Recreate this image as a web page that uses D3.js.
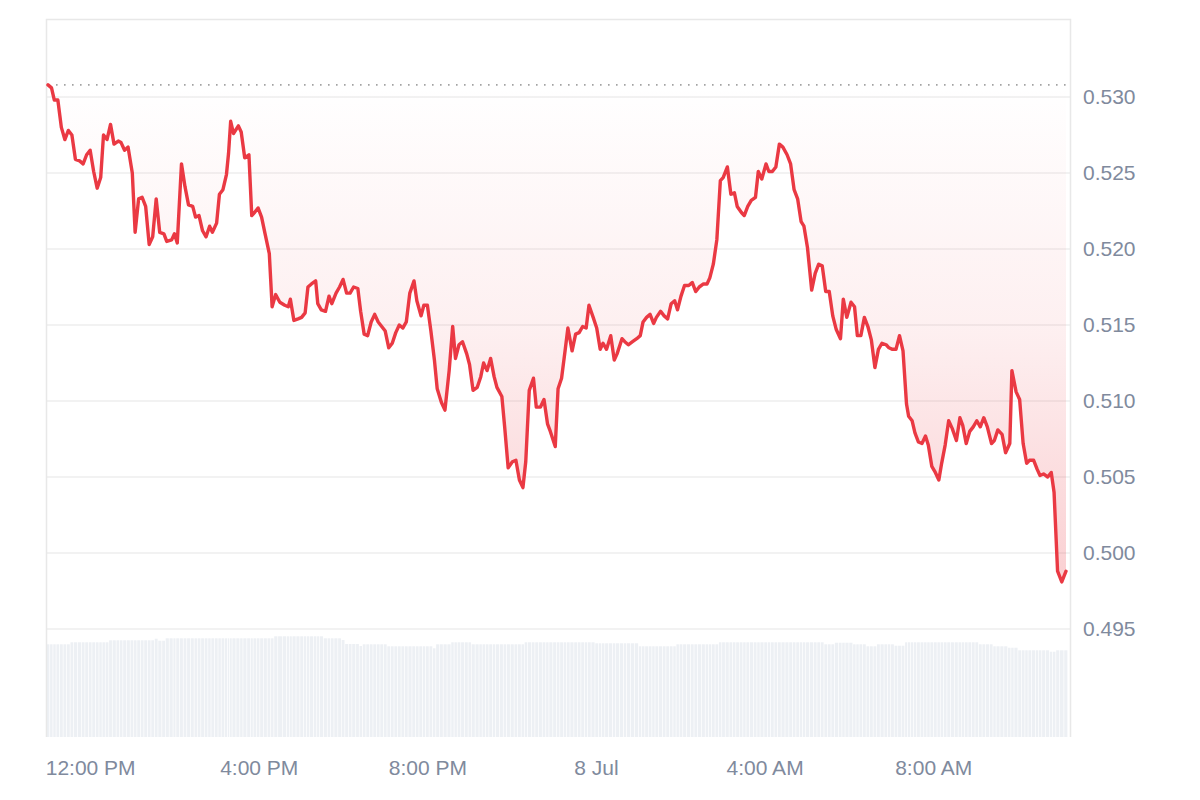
<!DOCTYPE html>
<html><head><meta charset="utf-8">
<script src="https://cdn.jsdelivr.net/npm/d3@7"></script>
<style>html,body{margin:0;padding:0;background:#fff;} svg{display:block;font-family:"Liberation Sans",Arial,sans-serif;}</style>
</head><body><svg id="chart" width="1200" height="800"></svg>
<script>
const times = [
"07-07 11:00","07-07 11:05","07-07 11:09","07-07 11:14","07-07 11:19","07-07 11:24","07-07 11:29","07-07 11:34","07-07 11:39","07-07 11:45",
"07-07 11:50","07-07 11:55","07-07 12:00","07-07 12:05","07-07 12:10","07-07 12:15","07-07 12:19","07-07 12:24","07-07 12:29","07-07 12:34",
"07-07 12:40","07-07 12:44","07-07 12:49","07-07 12:54","07-07 13:00","07-07 13:04","07-07 13:09","07-07 13:14","07-07 13:19","07-07 13:24",
"07-07 13:29","07-07 13:34","07-07 13:39","07-07 13:45","07-07 13:49","07-07 13:56","07-07 14:00","07-07 14:04","07-07 14:10","07-07 14:15",
"07-07 14:20","07-07 14:26","07-07 14:30","07-07 14:35","07-07 14:40","07-07 14:45","07-07 14:50","07-07 14:54","07-07 15:00","07-07 15:04",
"07-07 15:09","07-07 15:14","07-07 15:17","07-07 15:20","07-07 15:24","07-07 15:31","07-07 15:35","07-07 15:40","07-07 15:46","07-07 15:50",
"07-07 15:54","07-07 15:59","07-07 16:04","07-07 16:09","07-07 16:15","07-07 16:19","07-07 16:24","07-07 16:30","07-07 16:37","07-07 16:42",
"07-07 16:45","07-07 16:50","07-07 16:56","07-07 17:01","07-07 17:06","07-07 17:10","07-07 17:15","07-07 17:21","07-07 17:24","07-07 17:29",
"07-07 17:35","07-07 17:40","07-07 17:44","07-07 17:50","07-07 17:55","07-07 18:00","07-07 18:05","07-07 18:10","07-07 18:15","07-07 18:21",
"07-07 18:25","07-07 18:30","07-07 18:35","07-07 18:40","07-07 18:45","07-07 18:50","07-07 18:55","07-07 19:00","07-07 19:05","07-07 19:10",
"07-07 19:15","07-07 19:20","07-07 19:25","07-07 19:30","07-07 19:35","07-07 19:41","07-07 19:45","07-07 19:51","07-07 19:55","07-07 20:00",
"07-07 20:05","07-07 20:10","07-07 20:14","07-07 20:20","07-07 20:25","07-07 20:31","07-07 20:36","07-07 20:40","07-07 20:45","07-07 20:50",
"07-07 20:56","07-07 21:00","07-07 21:05","07-07 21:11","07-07 21:16","07-07 21:20","07-07 21:25","07-07 21:30","07-07 21:35","07-07 21:39",
"07-07 21:46","07-07 21:50","07-07 21:55","07-07 22:01","07-07 22:06","07-07 22:11","07-07 22:16","07-07 22:20","07-07 22:25","07-07 22:31",
"07-07 22:35","07-07 22:41","07-07 22:46","07-07 22:51","07-07 22:55","07-07 23:02","07-07 23:06","07-07 23:11","07-07 23:16","07-07 23:20",
"07-07 23:26","07-07 23:31","07-07 23:36","07-07 23:41","07-07 23:46","07-07 23:50","07-07 23:56","07-08 00:01","07-08 00:06","07-08 00:10",
"07-08 00:15","07-08 00:21","07-08 00:26","07-08 00:30","07-08 00:37","07-08 00:41","07-08 00:46","07-08 00:52","07-08 00:58","07-08 01:03",
"07-08 01:07","07-08 01:12","07-08 01:17","07-08 01:22","07-08 01:26","07-08 01:32","07-08 01:37","07-08 01:42","07-08 01:47","07-08 01:52",
"07-08 01:56","07-08 02:01","07-08 02:06","07-08 02:12","07-08 02:17","07-08 02:22","07-08 02:27","07-08 02:33","07-08 02:38","07-08 02:42",
"07-08 02:47","07-08 02:52","07-08 02:57","07-08 03:01","07-08 03:07","07-08 03:12","07-08 03:17","07-08 03:21","07-08 03:27","07-08 03:31",
"07-08 03:36","07-08 03:41","07-08 03:47","07-08 03:51","07-08 03:56","07-08 04:02","07-08 04:06","07-08 04:11","07-08 04:16","07-08 04:21",
"07-08 04:26","07-08 04:32","07-08 04:37","07-08 04:42","07-08 04:47","07-08 04:52","07-08 04:56","07-08 05:01","07-08 05:07","07-08 05:12",
"07-08 05:17","07-08 05:22","07-08 05:27","07-08 05:32","07-08 05:37","07-08 05:42","07-08 05:48","07-08 05:52","07-08 05:57","07-08 06:03",
"07-08 06:08","07-08 06:12","07-08 06:17","07-08 06:22","07-08 06:27","07-08 06:32","07-08 06:37","07-08 06:42","07-08 06:47","07-08 06:53",
"07-08 06:57","07-08 07:02","07-08 07:07","07-08 07:12","07-08 07:17","07-08 07:22","07-08 07:25","07-08 07:30","07-08 07:34","07-08 07:39",
"07-08 07:44","07-08 07:49","07-08 07:53","07-08 07:58","07-08 08:03","07-08 08:08","07-08 08:12","07-08 08:17","07-08 08:22","07-08 08:27",
"07-08 08:33","07-08 08:38","07-08 08:42","07-08 08:47","07-08 08:52","07-08 08:57","07-08 09:02","07-08 09:07","07-08 09:12","07-08 09:17",
"07-08 09:23","07-08 09:27","07-08 09:32","07-08 09:38","07-08 09:43","07-08 09:49","07-08 09:52","07-08 09:58","07-08 10:03","07-08 10:08",
"07-08 10:13","07-08 10:17","07-08 10:23","07-08 10:28","07-08 10:32","07-08 10:37","07-08 10:43","07-08 10:48","07-08 10:52","07-08 10:57",
"07-08 11:03","07-08 11:09"
];
const prices = [
0.5308,0.5306,0.5298,0.5298,0.5280,0.5272,0.5278,0.5275,0.5259,0.5258,
0.5256,0.5262,0.5265,0.5251,0.5240,0.5247,0.5275,0.5272,0.5282,0.5269,
0.5271,0.5270,0.5265,0.5267,0.5250,0.5211,0.5233,0.5234,0.5228,0.5203,
0.5208,0.5233,0.5211,0.5210,0.5205,0.5206,0.5210,0.5204,0.5256,0.5241,
0.5229,0.5228,0.5221,0.5222,0.5212,0.5208,0.5215,0.5211,0.5217,0.5236,
0.5239,0.5249,0.5263,0.5284,0.5276,0.5281,0.5277,0.5260,0.5262,0.5222,
0.5224,0.5227,0.5221,0.5210,0.5197,0.5162,0.5170,0.5165,0.5163,0.5162,
0.5167,0.5153,0.5154,0.5155,0.5158,0.5175,0.5177,0.5179,0.5164,0.5160,
0.5159,0.5169,0.5164,0.5171,0.5175,0.5180,0.5171,0.5171,0.5175,0.5174,
0.5159,0.5144,0.5143,0.5152,0.5157,0.5152,0.5149,0.5146,0.5135,0.5138,
0.5145,0.5150,0.5148,0.5152,0.5171,0.5179,0.5166,0.5156,0.5163,0.5163,
0.5146,0.5127,0.5108,0.5099,0.5094,0.5120,0.5149,0.5128,0.5137,0.5139,
0.5131,0.5124,0.5107,0.5109,0.5116,0.5125,0.5120,0.5128,0.5116,0.5109,
0.5103,0.5083,0.5056,0.5060,0.5061,0.5048,0.5043,0.5060,0.5107,0.5115,
0.5096,0.5096,0.5101,0.5085,0.5080,0.5070,0.5108,0.5115,0.5133,0.5148,
0.5133,0.5144,0.5145,0.5149,0.5148,0.5163,0.5155,0.5148,0.5134,0.5138,
0.5134,0.5143,0.5127,0.5131,0.5141,0.5139,0.5137,0.5139,0.5141,0.5143,
0.5152,0.5155,0.5157,0.5151,0.5155,0.5159,0.5156,0.5154,0.5164,0.5166,
0.5160,0.5169,0.5176,0.5176,0.5178,0.5172,0.5175,0.5177,0.5177,0.5181,
0.5190,0.5206,0.5245,0.5247,0.5254,0.5236,0.5237,0.5228,0.5224,0.5222,
0.5228,0.5232,0.5234,0.5251,0.5246,0.5256,0.5251,0.5251,0.5254,0.5269,
0.5267,0.5262,0.5256,0.5239,0.5233,0.5218,0.5215,0.5201,0.5173,0.5184,
0.5190,0.5189,0.5172,0.5172,0.5156,0.5147,0.5141,0.5167,0.5155,0.5165,
0.5162,0.5143,0.5143,0.5155,0.5149,0.5140,0.5122,0.5134,0.5138,0.5137,
0.5135,0.5134,0.5134,0.5143,0.5133,0.5098,0.5090,0.5087,0.5079,0.5073,
0.5072,0.5077,0.5071,0.5057,0.5053,0.5048,0.5059,0.5071,0.5087,0.5082,
0.5074,0.5089,0.5084,0.5072,0.5080,0.5083,0.5087,0.5083,0.5089,0.5083,
0.5072,0.5074,0.5081,0.5078,0.5066,0.5072,0.5120,0.5106,0.5101,0.5072,
0.5059,0.5061,0.5061,0.5055,0.5051,0.5052,0.5050,0.5053,0.5040,0.4988,
0.4981,0.4988
];
const volumes = [
92.7,92.7,92.7,92.7,92.7,92.7,92.7,
94.7,94.7,94.7,94.7,94.7,94.7,94.7,94.7,94.7,94.7,94.7,
96.7,96.7,96.7,96.7,96.7,96.7,96.7,96.7,96.7,96.7,96.7,96.7,96.7,
98.3,96.3,96.3,
98.7,98.7,98.7,98.7,98.7,98.7,98.7,98.7,98.7,98.7,98.7,98.7,98.7,98.7,98.7,98.7,
98.7,98.7,98.7,98.7,98.7,98.7,98.7,98.7,98.7,98.7,98.7,98.7,98.7,98.7,98.7,98.7,
100.7,100.7,100.7,100.7,100.7,100.7,100.7,100.7,100.7,100.7,100.7,100.7,100.7,100.7,
98.7,98.7,98.7,98.7,98.7,
97,93,93,93,93,91,
92.7,92.7,92.7,92.7,92.7,92.7,92.7,
90.7,90.7,90.7,90.7,90.7,90.7,90.7,90.7,90.7,90.7,90.7,90.7,90.7,
88.7,
92.7,92.7,92.7,92.7,
94.7,94.7,94.7,94.7,94.7,94.7,
92.7,92.7,92.7,92.7,92.7,92.7,92.7,92.7,92.7,92.7,92.7,92.7,92.7,92.7,92.7,
94.7,94.7,94.7,94.7,94.7,94.7,94.7,94.7,94.7,94.7,94.7,94.7,94.7,94.7,94.7,94.7,94.7,94.7,94.7,94.7,
93.7,93.7,93.7,93.7,93.7,93.7,93.7,93.7,93.7,93.7,93.7,93.7,
90.7,90.7,90.7,90.7,90.7,90.7,90.7,90.7,90.7,90.7,90.7,
92.7,92.7,92.7,92.7,92.7,92.7,92.7,92.7,92.7,92.7,92.7,92.7,
94.7,94.7,94.7,94.7,94.7,94.7,94.7,94.7,94.7,94.7,94.7,94.7,94.7,94.7,94.7,
94.7,94.7,94.7,94.7,94.7,94.7,94.7,94.7,94.7,94.7,94.7,94.7,94.7,94.7,94.7,
92.7,92.7,92.7,
94.3,94.3,94.3,94.3,94.3,
92.7,92.7,92.7,92.7,
90.7,90.7,90.7,
92.7,92.7,92.7,92.7,92.7,
91.3,91.3,91.3,
94.7,94.7,94.7,94.7,94.7,94.7,94.7,94.7,94.7,94.7,94.7,
94.7,94.7,94.7,94.7,94.7,94.7,94.7,94.7,94.7,94.7,94.7,
92.7,92.7,92.7,92.7,
90.7,90.7,90.7,90.7,
89.3,89.3,89.3,
86.7,86.7,86.7,86.7,86.7,86.7,86.7,86.7,86.7,
85.3,85.3,
86.7,86.7,86.7
];
const priceTicks = [0.495, 0.500, 0.505, 0.510, 0.515, 0.520, 0.525, 0.530];

const parse = d3.timeParse("%m-%d %H:%M");
const data = times.map((t, i) => ({ t: parse(t), p: prices[i], v: volumes[Math.min(i, volumes.length - 1)] }));
const n = data.length;

const svg = d3.select("#chart");
const L = 46.5, R = 1070.5, T = 19.5, B = 737;

const x = d3.scaleTime().domain(d3.extent(data, d => d.t)).range([48, 1066]);
const y = d3.scaleLinear().domain([0.495, 0.530]).range([629, 97]);
const yv = d3.scaleLinear().domain([0, 110]).range([B, B - 110]);

// Volume bars
const bounds = data.map((d, i) => {
  const xi = x(d.t);
  const x0 = i === 0 ? xi - 1.75 : (x(data[i - 1].t) + xi) / 2;
  const x1 = i === n - 1 ? xi + 1.75 : (x(data[i + 1].t) + xi) / 2;
  return [x0, x1];
});
svg.append("g").selectAll("rect").data(data).join("rect")
  .attr("x", (d, i) => bounds[i][0] + 0.35)
  .attr("width", (d, i) => Math.max(0.5, bounds[i][1] - bounds[i][0] - 0.7))
  .attr("y", d => yv(d.v))
  .attr("height", d => B - yv(d.v))
  .attr("fill", "#edf0f4");

// Gridlines
svg.append("g").selectAll("line").data(priceTicks).join("line")
  .attr("x1", L).attr("x2", R)
  .attr("y1", d => y(d)).attr("y2", d => y(d))
  .attr("stroke", "#eeeeee").attr("stroke-width", 1.5);

// Frame
const frame = svg.append("g").attr("stroke", "#e8e8e8").attr("stroke-width", 1.5).attr("fill", "none");
frame.append("path").attr("d", `M${L},${B}V${T}H${R}V${B}`);

// Gradient for area
const base = prices[0];
const minP = d3.min(prices);
const defs = svg.append("defs");
const grad = defs.append("linearGradient").attr("id", "fillGrad")
  .attr("gradientUnits", "userSpaceOnUse")
  .attr("x1", 0).attr("x2", 0).attr("y1", y(base)).attr("y2", y(minP));
grad.append("stop").attr("offset", 0).attr("stop-color", "#ea3943").attr("stop-opacity", 0.0);
grad.append("stop").attr("offset", 0.5).attr("stop-color", "#ea3943").attr("stop-opacity", 0.08);
grad.append("stop").attr("offset", 1).attr("stop-color", "#ea3943").attr("stop-opacity", 0.24);

const area = d3.area().x(d => x(d.t)).y0(y(base)).y1(d => y(Math.min(d.p, base)));
svg.append("path").datum(data).attr("d", area).attr("fill", "url(#fillGrad)");

// Baseline dotted line
svg.append("line")
  .attr("x1", 48).attr("x2", 1066)
  .attr("y1", y(base)).attr("y2", y(base))
  .attr("stroke", "#a3a3a3").attr("stroke-width", 1.6)
  .attr("stroke-dasharray", "1.6,6.4");

// Price line
const line = d3.line().x(d => x(d.t)).y(d => y(d.p));
svg.append("path").datum(data).attr("d", line)
  .attr("fill", "none").attr("stroke", "#ea3943").attr("stroke-width", 3.4)
  .attr("stroke-linejoin", "round").attr("stroke-linecap", "round");

// Y axis (right)
const yAxis = svg.append("g").attr("transform", "translate(1083,0)")
  .call(d3.axisRight(y).tickValues(priceTicks).tickSize(0).tickPadding(0).tickFormat(d3.format(".3f")));
yAxis.select(".domain").remove();
yAxis.selectAll("text").attr("fill", "#808a9d").style("font-size", "21px")
  .style("font-family", "'Liberation Sans', Arial, sans-serif");

// X axis
const fmtDay = d3.timeFormat("%-d %b"), fmtHour = d3.timeFormat("%-I:%M %p");
const xAxis = svg.append("g").attr("transform", "translate(0,760)")
  .call(d3.axisBottom(x).ticks(d3.timeHour.every(4)).tickSize(0).tickPadding(0)
    .tickFormat(d => d.getHours() === 0 ? fmtDay(d) : fmtHour(d)));
xAxis.select(".domain").remove();
xAxis.selectAll("text").attr("fill", "#808a9d").style("font-size", "21px")
  .style("font-family", "'Liberation Sans', Arial, sans-serif");
</script></body></html>
